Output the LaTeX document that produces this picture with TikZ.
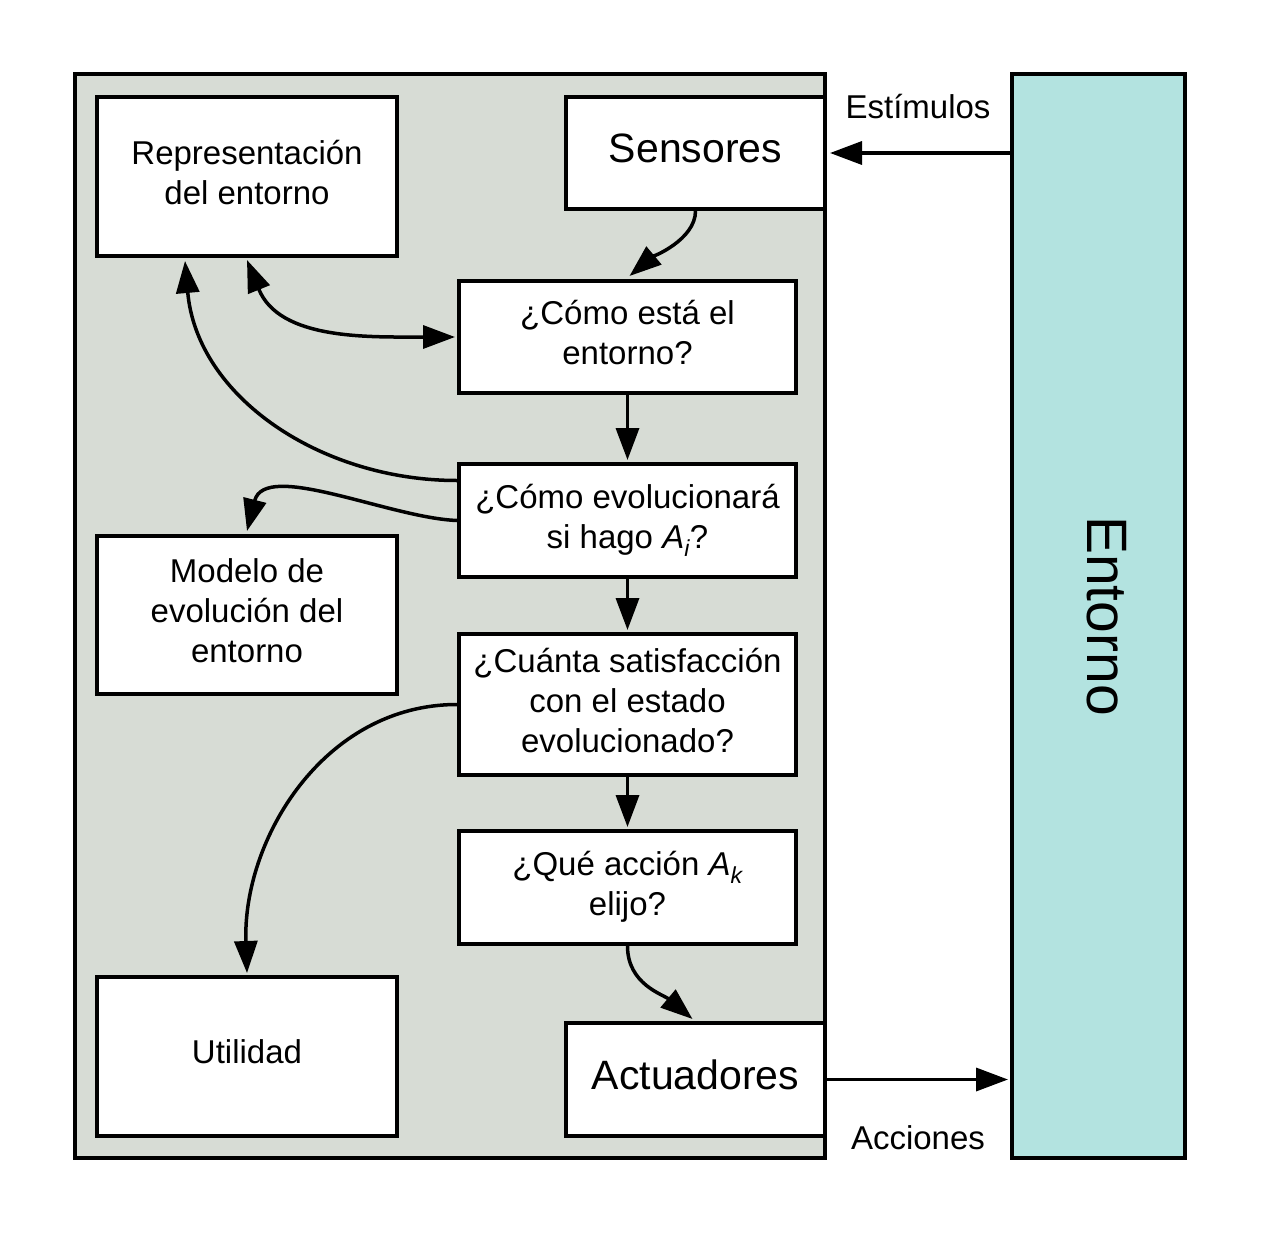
\documentclass[tikz,border=0pt]{standalone}
\usepackage{fontspec}
\setmainfont{Liberation Sans}
\usetikzlibrary{arrows.meta}

\definecolor{agentgray}{HTML}{D7DCD5}
\definecolor{envteal}{HTML}{B3E3E0}

\tikzset{
  box/.style={draw, fill=white, line width=4pt, align=center, inner sep=0pt,
    execute at end node={\rule[-9pt]{0pt}{1pt}}},
  flow/.style={line width=3.5pt, -{Triangle[length=32pt,width=23pt]}},
  bigtext/.style={font=\fontsize{41}{48}\selectfont},
}

\begin{document}
\begin{tikzpicture}[x=1pt, y=-1pt, font=\fontsize{33}{40}\selectfont]
            \useasboundingbox (0,0) rectangle (1262,1234);
            % agente y entorno
            \node[box, fill=agentgray, minimum width=750pt, minimum height=1084pt] (agente) at (450,616) {};
            \node[box, fill=envteal, rotate=-90, minimum width=1084pt, minimum height=173pt,
                  font=\fontsize{57}{64}\selectfont, execute at end node={\rule[-17pt]{0pt}{1pt}}] (entorno) at (1098.5,616) {Entorno};
            % cajas del agente
            \node[box, minimum width=300pt, minimum height=159pt] (repr) at (247,176.5) {Representación\\del entorno};
            \node[box, bigtext, minimum width=259pt, minimum height=112pt] (sens) at (695.5,153) {Sensores};
            \node[box, minimum width=337pt, minimum height=112pt] (estado) at (627.5,337) {¿Cómo está el\\entorno?};
            \node[box, minimum width=337pt, minimum height=113pt] (evol) at (627.5,520.5) {¿Cómo evolucionará\\si hago {\itshape A\textsubscript{i}}?};
            \node[box, minimum width=300pt, minimum height=158pt] (modelo) at (247,615) {Modelo de\\evolución del\\entorno};
            \node[box, minimum width=337pt, minimum height=141pt] (satis) at (627.5,704.5) {¿Cuánta satisfacción\\con el estado\\evolucionado?};
            \node[box, minimum width=337pt, minimum height=113pt] (accion) at (627.5,887.5) {¿Qué acción {\itshape A\textsubscript{k}}\\elijo?};
            \node[box, minimum width=300pt, minimum height=159pt] (util) at (247,1056.5) {Utilidad};
            \node[box, bigtext, minimum width=259pt, minimum height=113pt] (actu) at (695.5,1079.5) {Actuadores};
            % rotulos
            \node (estimulos) at (918,107) {Estímulos};
            \node (acciones) at (918,1138) {Acciones};
            % conexiones
            \draw[flow] (entorno.south |- sens.east) -- ([xshift=3pt]sens.east);
            \draw[flow] (actu.east) -- ([xshift=-2pt]entorno.south |- actu.east);
            \draw[flow] (sens.south) to[out=-90, in=40, looseness=0.8] ([xshift=2pt,yshift=3pt]estado.north);
            \draw[flow, {Triangle[length=32pt,width=23pt]}-{Triangle[length=32pt,width=23pt]}]
                 ([yshift=-2pt]repr.south) to[out=-68, in=180] ([xshift=-2pt]estado.west);
            \draw[flow] ([yshift=40pt]evol.west) to[out=180, in=-85] ([xshift=-62pt,yshift=-3pt]repr.south);
            \draw[flow] (evol.west) .. controls (390,518) and (265,460) .. ([yshift=3pt]modelo.north);
            \draw[flow] (satis.west) to[out=180, in=92] ([yshift=2pt]util.north);
            \foreach \a/\b in {estado/evol, evol/satis, satis/accion}
            {
              \draw[flow] (\a.south) -- ([yshift=2pt]\b.north);
            }
            \draw[flow] (accion.south) to[out=-90, in=140] ([xshift=-3pt,yshift=2pt]actu.north);
        \end{tikzpicture}
\end{document}
